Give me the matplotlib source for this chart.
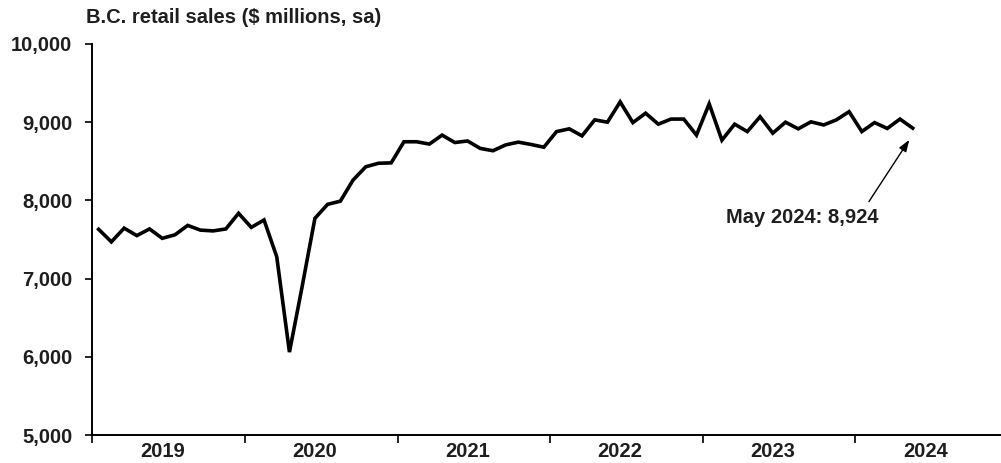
import matplotlib
matplotlib.use("Agg")
import matplotlib.pyplot as plt
from matplotlib.ticker import FuncFormatter, FixedLocator
import numpy as np

# Monthly B.C. retail sales, $ millions, seasonally adjusted (Jan 2019 - May 2024)
sales_2019 = [7630, 7470, 7645, 7550, 7635, 7515, 7560, 7680, 7620, 7610, 7635, 7835]
sales_2020 = [7655, 7750, 7280, 6060, 6900, 7770, 7950, 7990, 8260, 8430, 8475, 8480]
sales_2021 = [8750, 8750, 8720, 8835, 8740, 8760, 8665, 8635, 8710, 8745, 8715, 8680]
sales_2022 = [8880, 8915, 8825, 9030, 9000, 9260, 8995, 9115, 8975, 9040, 9040, 8835]
sales_2023 = [9235, 8770, 8975, 8880, 9070, 8860, 9000, 8915, 9005, 8965, 9030, 9135]
sales_2024 = [8880, 8995, 8920, 9040, 8924]
years = ["2019", "2020", "2021", "2022", "2023", "2024"]
y_ticks = [5000, 6000, 7000, 8000, 9000, 10000]
title = "B.C. retail sales ($ millions, sa)"
latest_label = "May 2024: 8,924"

sales = sales_2019 + sales_2020 + sales_2021 + sales_2022 + sales_2023 + sales_2024
months = np.arange(len(sales)) + 0.5  # each month plotted at its midpoint

text_color = "#1e1e1e"
font = ["Liberation Sans", "DejaVu Sans"]
plt.rcParams["font.family"] = font
plt.rcParams["font.weight"] = "bold"

fig = plt.figure(figsize=(10.01, 4.63), dpi=100)
W, H = 1001, 463
ax = fig.add_axes([92.3 / W, 28 / H, 915.8 / W, 391 / H])

ax.plot(months, sales, color="black", lw=2.6, solid_joinstyle="miter")

ax.set_xlim(0, 12 * len(years))
ax.set_ylim(y_ticks[0], y_ticks[-1])

for side in ("top", "right"):
    ax.spines[side].set_visible(False)
for side in ("left", "bottom"):
    ax.spines[side].set_linewidth(1.4)
    ax.spines[side].set_color("black")

ax.yaxis.set_major_locator(FixedLocator(y_ticks))
ax.yaxis.set_major_formatter(FuncFormatter(lambda v, p: f"{int(v):,}"))
ax.tick_params(axis="y", which="major", direction="out", length=4.7, width=1.2,
               pad=9.6, labelsize=14.5, labelcolor=text_color)

# year boundaries as tick marks, year names centred in each year
ax.xaxis.set_major_locator(FixedLocator([12 * k for k in range(len(years) + 1)]))
ax.xaxis.set_major_formatter(FuncFormatter(lambda v, p: ""))
ax.xaxis.set_minor_locator(FixedLocator([12 * k + 5.5 for k in range(len(years))]))
ax.xaxis.set_minor_formatter(FuncFormatter(lambda v, p: years[int(v // 12)]))
ax.tick_params(axis="x", which="major", direction="out", length=6, width=1.2)
ax.tick_params(axis="x", which="minor", length=0, pad=5, labelsize=14.5,
               labelcolor=text_color)
for lbl in ax.get_yticklabels() + ax.get_xticklabels(minor=True):
    lbl.set_fontweight("bold")

fig.text(86 / W, 1 - 23.3 / H, title, ha="left", va="baseline",
         fontsize=14.5, fontweight="bold", color=text_color)

# annotate the latest month: label below, arrow pointing up to the last point
last_x, last_y = months[-1], sales[-1]
ax.text(55.8, 7775, latest_label, ha="center", va="center",
        fontsize=14.5, fontweight="bold", color=text_color)
ax.annotate("", xy=(last_x - 0.27, last_y - 150), xytext=(61.06, 7985),
            arrowprops=dict(arrowstyle="-|>,head_length=0.7,head_width=0.25",
                            color="black", lw=1.0, shrinkA=0, shrinkB=0))

fig.savefig("out.png", dpi=100)
